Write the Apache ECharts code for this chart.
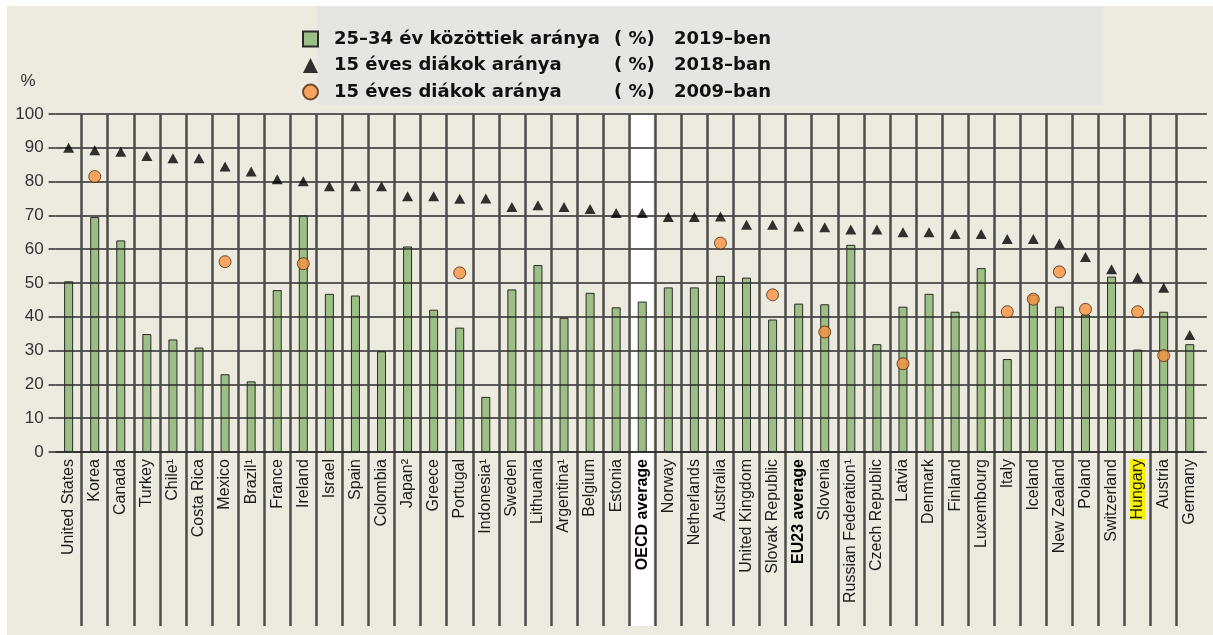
<!DOCTYPE html>
<html>
<head>
<meta charset="utf-8">
<script src="https://cdn.jsdelivr.net/npm/echarts@6/dist/echarts.min.js"></script>
<style>
  html, body { margin: 0; padding: 0; background: #ffffff; }
  #chart { width: 1213px; height: 635px; }
</style>
</head>
<body>
<div id="chart"></div>
<script>
// Countries, ordered by the 2018 share of 15-year-old students
const categories = [
  'United States', 'Korea', 'Canada', 'Turkey', 'Chile¹', 'Costa Rica', 'Mexico', 'Brazil¹',
  'France', 'Ireland', 'Israel', 'Spain', 'Colombia', 'Japan²', 'Greece', 'Portugal',
  'Indonesia¹', 'Sweden', 'Lithuania', 'Argentina¹', 'Belgium', 'Estonia', 'OECD average',
  'Norway', 'Netherlands', 'Australia', 'United Kingdom', 'Slovak Republic', 'EU23 average',
  'Slovenia', 'Russian Federation¹', 'Czech Republic', 'Latvia', 'Denmark', 'Finland',
  'Luxembourg', 'Italy', 'Iceland', 'New Zealand', 'Poland', 'Switzerland', 'Hungary',
  'Austria', 'Germany'
];

// 25–34 year olds, 2019 (%)
const youngAdults2019 = [
  50.5, 69.5, 62.6, 34.9, 33.3, 30.9, 23.0, 20.9,
  47.9, 70.0, 46.8, 46.3, 29.8, 60.8, 42.1, 36.8,
  16.3, 48.1, 55.3, 39.7, 47.1, 42.8, 44.5,
  48.7, 48.7, 52.1, 51.6, 39.2, 43.9,
  43.7, 61.3, 31.9, 43.0, 46.8, 41.5,
  54.4, 27.5, 46.5, 43.0, 40.7, 51.9, 30.3,
  41.5, 31.9
];

// 15-year-old students, 2018 (%)
const students2018 = [
  90.0, 89.3, 88.8, 87.6, 86.9, 86.9, 84.5, 83.0,
  80.7, 80.1, 78.6, 78.6, 78.6, 75.7, 75.7, 74.9,
  75.0, 72.5, 73.0, 72.5, 71.9, 70.7, 70.7,
  69.5, 69.5, 69.7, 67.2, 67.2, 66.7,
  66.5, 65.8, 65.8, 65.0, 65.0, 64.5,
  64.5, 63.0, 63.0, 61.7, 57.7, 54.1, 51.6,
  48.6, 34.6
];

// 15-year-old students, 2009 (%) – only where available
const students2009 = [
  null, 81.5, null, null, null, null, 56.3, null,
  null, 55.7, null, null, null, null, null, 53.0,
  null, null, null, null, null, null, null,
  null, null, 61.8, null, 46.5, null,
  35.5, null, null, 26.1, null, null,
  null, 41.5, 45.2, 53.3, 42.2, null, 41.5,
  28.5, null
];

const yTicks = { min: 0, max: 100, interval: 10 };

const legendNames = [
  '25–34 év közöttiek aránya',
  '15 éves diákok aránya 2018',
  '15 éves diákok aránya 2009'
];
const legendTexts = {};
legendTexts[legendNames[0]] = ['25–34 év közöttiek aránya', '( %)', '2019–ben'];
legendTexts[legendNames[1]] = ['15 éves diákok aránya', '( %)', '2018–ban'];
legendTexts[legendNames[2]] = ['15 éves diákok aránya', '( %)', '2009–ban'];

const averageRows = ['OECD average', 'EU23 average'];
const highlightRow = 'Hungary';
const bandRow = 'OECD average';

const GRID_LEFT = 55.6;
const GRID_RIGHT = 10.2;
const LINE_H = '#2a2a2a';
const LINE_V = '#4d4d4d';
const labelFont = 'Liberation Sans';

const chart = echarts.init(document.getElementById('chart'), null, { renderer: 'canvas' });

const option = {
  backgroundColor: 'transparent',
  animation: false,
  graphic: [
    { type: 'rect', z: -10, silent: true, shape: { x: 7, y: 6, width: 1206, height: 629 }, style: { fill: '#EDEAE0' } },
    { type: 'rect', z: -9, silent: true, shape: { x: 317, y: 6, width: 786, height: 99 }, style: { fill: '#E5E5E4' } }
  ],
  legend: {
    left: 297,
    top: 25,
    orient: 'vertical',
    selectedMode: false,
    itemWidth: 15,
    itemHeight: 15,
    itemGap: 8.5,
    data: [
      { name: legendNames[0], icon: 'rect' },
      { name: legendNames[1], icon: 'triangle' },
      { name: legendNames[2], icon: 'circle' }
    ],
    formatter: function (name) {
      const t = legendTexts[name];
      return '{a|' + t[0] + '}{b|' + t[1] + '}{c|' + t[2] + '}';
    },
    textStyle: {
      rich: {
        a: { width: 280, padding: [0, 0, 0, 11], fontFamily: 'DejaVu Sans', fontWeight: 'bold', fontSize: 18, lineHeight: 16, color: '#111' },
        b: { width: 60, fontFamily: 'DejaVu Sans', fontWeight: 'bold', fontSize: 18, lineHeight: 16, color: '#111' },
        c: { fontFamily: 'DejaVu Sans', fontWeight: 'bold', fontSize: 18, lineHeight: 16, color: '#111' }
      }
    }
  },
  grid: [
    { left: GRID_LEFT, right: GRID_RIGHT, top: 114, bottom: 183, containLabel: false },
    { left: GRID_LEFT, right: GRID_RIGHT, top: 114, bottom: 9, containLabel: false }
  ],
  xAxis: [
    {
      type: 'category',
      gridIndex: 0,
      data: categories,
      z: 2,
      axisLine: { show: true, lineStyle: { color: LINE_H, width: 1.5 } },
      axisTick: { show: false },
      splitLine: { show: false },
      axisLabel: {
        interval: 0,
        rotate: 90,
        margin: 7,
        fontSize: 16,
        fontFamily: labelFont,
        color: '#1c1c1c',
        formatter: function (v) {
          if (averageRows.indexOf(v) >= 0) return '{b|' + v + '}';
          if (v === highlightRow) return '{h|' + v + '}';
          return '{n|' + v + '}';
        },
        rich: {
          n: { fontSize: 16, fontFamily: labelFont, color: '#1c1c1c' },
          b: { fontSize: 16, fontFamily: labelFont, fontWeight: 'bold', color: '#000' },
          h: { fontSize: 16, fontFamily: labelFont, color: '#1c1c1c', backgroundColor: '#F7F200' }
        }
      }
    },
    {
      type: 'category',
      gridIndex: 1,
      data: categories,
      z: 2,
      axisLine: { show: false },
      axisTick: { show: false, interval: 0 },
      axisLabel: { show: false, interval: 0 },
      splitLine: { show: true, interval: 0, showMinLine: false, showMaxLine: false, lineStyle: { color: LINE_V, width: 2.5 } }
    }
  ],
  yAxis: [
    {
      type: 'value',
      gridIndex: 0,
      min: yTicks.min,
      max: yTicks.max,
      interval: yTicks.interval,
      z: 2,
      name: '%',
      nameLocation: 'end',
      nameGap: 24,
      nameTextStyle: { fontSize: 17, fontFamily: labelFont, color: '#333', align: 'right', padding: [0, 20, 0, 0] },
      axisLine: { show: false },
      axisTick: { show: true, length: 7, lineStyle: { color: LINE_H, width: 1.5 } },
      axisLabel: { margin: 12, fontSize: 17, fontFamily: labelFont, color: '#333' },
      splitLine: { show: true, lineStyle: { color: LINE_H, width: 1.5 } }
    },
    {
      type: 'value',
      gridIndex: 0,
      position: 'right',
      min: yTicks.min,
      max: yTicks.max,
      interval: yTicks.interval,
      z: 2,
      axisLine: { show: false },
      axisTick: { show: true, length: 4, lineStyle: { color: LINE_H, width: 1.5 } },
      axisLabel: { show: false },
      splitLine: { show: false }
    },
    {
      type: 'value',
      gridIndex: 1,
      min: 0,
      max: 1,
      show: false
    }
  ],
  series: [
    {
      name: 'band',
      type: 'bar',
      xAxisIndex: 1,
      yAxisIndex: 2,
      z: 0,
      barWidth: 22,
      silent: true,
      itemStyle: { color: '#ffffff' },
      data: categories.map(function (c) { return c === bandRow ? 1 : '-'; })
    },
    {
      name: legendNames[0],
      type: 'bar',
      xAxisIndex: 0,
      yAxisIndex: 0,
      z: 1,
      barWidth: 9,
      itemStyle: { color: '#9CBF85', borderColor: '#2a2a2a', borderWidth: 1 },
      data: youngAdults2019
    },
    {
      name: legendNames[1],
      type: 'scatter',
      xAxisIndex: 0,
      yAxisIndex: 0,
      z: 3,
      symbol: 'triangle',
      symbolSize: [11, 10],
      itemStyle: { color: '#000000' },
      data: students2018
    },
    {
      name: legendNames[2],
      type: 'scatter',
      xAxisIndex: 0,
      yAxisIndex: 0,
      z: 4,
      symbol: 'circle',
      symbolSize: 12,
      itemStyle: { color: '#F7923F', borderColor: '#4a2e12', borderWidth: 1 },
      data: students2009.map(function (v) { return v === null ? '-' : v; })
    }
  ]
};

chart.setOption(option);
</script>
</body>
</html>
